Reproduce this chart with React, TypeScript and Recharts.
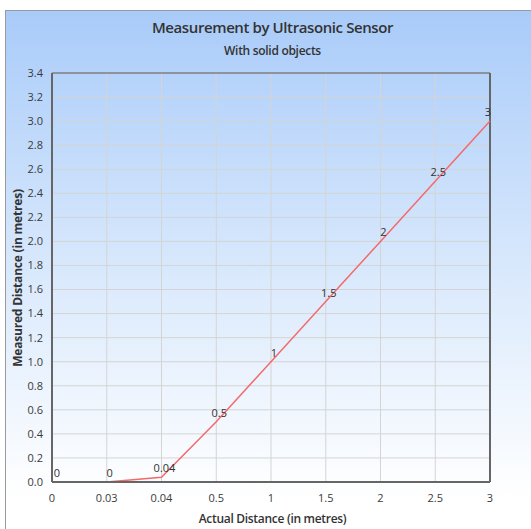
import React from "react";
import {
  CartesianGrid,
  LabelList,
  Line,
  LineChart,
  ReferenceLine,
  XAxis,
  YAxis,
} from "recharts";

// actual distance (categories, equally spaced on the axis)
const actualDistance = ["0", "0.03", "0.04", "0.5", "1", "1.5", "2", "2.5", "3"];
const measuredDistance = [0, 0, 0.04, 0.5, 1, 1.5, 2, 2.5, 3];
const yTicks = [0, 0.2, 0.4, 0.6, 0.8, 1, 1.2, 1.4, 1.6, 1.8, 2, 2.2, 2.4, 2.6, 2.8, 3, 3.2, 3.4];

const data = actualDistance.map((x, i) => ({ x, y: measuredDistance[i] }));

const font = "'Open Sans', 'Noto Sans', sans-serif";

// point labels sit just above each point, nudged inside at the plot edges
function PointLabel(props: any) {
  const { x, y, value, index } = props;
  let dx = 3;
  if (index === 0) dx = 5;
  if (index === actualDistance.length - 1) dx = -2;
  return (
    <text
      x={x + dx}
      y={y - 5}
      textAnchor="middle"
      fontSize={11}
      fill="#333"
      fontFamily={font}
    >
      {value}
    </text>
  );
}

export default function App() {
  return (
    <div
      style={{
        position: "absolute",
        left: 0,
        top: 0,
        width: 531,
        height: 529,
        background: "#fff",
        overflow: "hidden",
        fontFamily: font,
      }}
    >
      {/* panel with blue to white gradient */}
      <div
        style={{
          position: "absolute",
          left: 5,
          top: 10,
          width: 540,
          height: 540,
          borderLeft: "1px solid #9a9a9a",
          borderTop: "1px solid #9a9a9a",
          background: "linear-gradient(to bottom, #a9cbf9 0%, #d6e7fc 45%, #ffffff 90%)",
        }}
      />
      <div
        style={{
          position: "absolute",
          left: 0,
          width: 545,
          top: 17,
          textAlign: "center",
          fontSize: 15,
          fontWeight: 600,
          color: "#333",
          letterSpacing: -0.4,
        }}
      >
        Measurement by Ultrasonic Sensor
      </div>
      <div
        style={{
          position: "absolute",
          left: 0,
          width: 545,
          top: 42,
          textAlign: "center",
          fontSize: 12,
          fontWeight: 600,
          color: "#333",
          letterSpacing: -0.3,
        }}
      >
        With solid objects
      </div>
      <div
        style={{
          position: "absolute",
          left: 0,
          width: 545,
          top: 510,
          textAlign: "center",
          fontSize: 12,
          fontWeight: 600,
          color: "#333",
          letterSpacing: -0.3,
        }}
      >
        Actual Distance (in metres)
      </div>
      <div
        style={{
          position: "absolute",
          left: 17,
          top: 278,
          transform: "translate(-50%, -50%) rotate(-90deg)",
          whiteSpace: "nowrap",
          fontSize: 12,
          fontWeight: 700,
          color: "#333",
          letterSpacing: -0.2,
        }}
      >
        Measured Distance (in metres)
      </div>
      <div style={{ position: "absolute", left: 0, top: 0 }}>
        <LineChart
          width={531}
          height={529}
          data={data}
          margin={{ top: 73, right: 41, bottom: 17, left: 12 }}
        >
          <CartesianGrid stroke="#d4d4d4" strokeWidth={1} />
          <XAxis
            dataKey="x"
            height={30}
            axisLine={{ stroke: "#666", strokeWidth: 2 }}
            tickLine={false}
            tick={{ fontSize: 11, fill: "#3a3a3a", fontFamily: font }}
            tickMargin={6}
            interval={0}
          />
          <YAxis
            width={40}
            domain={[0, 3.4]}
            ticks={yTicks}
            tickFormatter={(v: number) => v.toFixed(1)}
            axisLine={{ stroke: "#666", strokeWidth: 2 }}
            tickLine={false}
            tick={{ fontSize: 11, fill: "#3a3a3a", fontFamily: font }}
            tickMargin={3}
            interval={0}
          />
          <ReferenceLine y={3.4} stroke="#555" strokeWidth={1} />
          <ReferenceLine x="3" stroke="#666" strokeWidth={2} />
          <Line
            type="linear"
            dataKey="y"
            stroke="#f46a6a"
            strokeWidth={1.5}
            dot={false}
            activeDot={false}
            isAnimationActive={false}
          >
            <LabelList dataKey="y" content={PointLabel} />
          </Line>
        </LineChart>
      </div>
    </div>
  );
}
